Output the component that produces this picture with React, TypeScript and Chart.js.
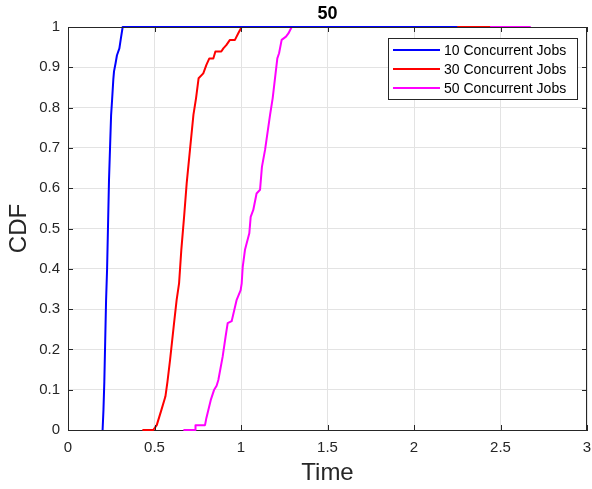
import React, { useEffect, useRef } from "react";
import { Chart, registerables } from "chart.js";

Chart.register(...registerables);

const TITLE = "50";
const X_LABEL = "Time";
const Y_LABEL = "CDF";
const X_TICKS = [0, 0.5, 1, 1.5, 2, 2.5, 3];
const Y_TICKS = [0, 0.1, 0.2, 0.3, 0.4, 0.5, 0.6, 0.7, 0.8, 0.9, 1];
const SERIES_LABELS = ["10 Concurrent Jobs", "30 Concurrent Jobs", "50 Concurrent Jobs"];
const SERIES_COLORS = ["#0000ff", "#ff0000", "#ff00ff"];

const jobs10Time = [0.2, 0.205, 0.21, 0.215, 0.22, 0.226, 0.232, 0.237, 0.243, 0.249, 0.255, 0.262, 0.266, 0.275, 0.283, 0.297, 0.305, 0.316, 2.25];
const jobs10Cdf = [0, 0.05, 0.12, 0.22, 0.32, 0.4, 0.52, 0.62, 0.7, 0.78, 0.82, 0.87, 0.89, 0.91, 0.93, 0.947, 0.97, 1, 1];

const jobs30Time = [0.43, 0.493, 0.513, 0.54, 0.563, 0.575, 0.59, 0.613, 0.628, 0.642, 0.655, 0.671, 0.686, 0.705, 0.725, 0.74, 0.755, 0.782, 0.8, 0.817, 0.84, 0.852, 0.886, 0.898, 0.915, 0.936, 0.965, 0.985, 1.004, 2.44];
const jobs30Cdf = [0, 0, 0.012, 0.05, 0.083, 0.12, 0.174, 0.265, 0.323, 0.364, 0.447, 0.529, 0.612, 0.695, 0.782, 0.823, 0.873, 0.885, 0.906, 0.922, 0.922, 0.939, 0.939, 0.947, 0.955, 0.968, 0.968, 0.985, 1, 1];

const jobs50Time = [0.667, 0.735, 0.737, 0.792, 0.8, 0.825, 0.844, 0.859, 0.869, 0.894, 0.911, 0.923, 0.946, 0.975, 0.998, 1.004, 1.01, 1.023, 1.048, 1.056, 1.071, 1.09, 1.11, 1.121, 1.139, 1.168, 1.183, 1.21, 1.22, 1.235, 1.26, 1.274, 1.293, 2.675];
const jobs50Cdf = [0, 0, 0.012, 0.012, 0.03, 0.074, 0.099, 0.11, 0.124, 0.182, 0.232, 0.265, 0.27, 0.323, 0.347, 0.364, 0.405, 0.447, 0.488, 0.529, 0.546, 0.587, 0.596, 0.653, 0.695, 0.782, 0.823, 0.922, 0.935, 0.968, 0.976, 0.984, 1, 1];

const FONT = "'Liberation Sans', Arial, Helvetica, sans-serif";
const AXIS_COLOR = "#262626";

const toPoints = (xs: number[], ys: number[]) => xs.map((x, i) => ({ x, y: ys[i] }));

const decorPlugin = {
  id: "decor",
  afterDraw(chart: any) {
    const { ctx, chartArea } = chart;
    const { left, right, top, bottom } = chartArea;
    const xs = chart.scales.x;
    const ys = chart.scales.y;
    ctx.save();
    ctx.strokeStyle = AXIS_COLOR;
    ctx.lineWidth = 1;
    ctx.beginPath();
    ctx.moveTo(left, Math.round(top) + 0.5);
    ctx.lineTo(right, Math.round(top) + 0.5);
    ctx.moveTo(Math.round(right) - 0.5, top);
    ctx.lineTo(Math.round(right) - 0.5, bottom);
    ctx.stroke();
    const tl = 5;
    ctx.beginPath();
    X_TICKS.forEach((v) => {
      const px = Math.round(xs.getPixelForValue(v)) + 0.5;
      ctx.moveTo(px, bottom);
      ctx.lineTo(px, bottom - tl);
      ctx.moveTo(px, top);
      ctx.lineTo(px, top + tl);
    });
    Y_TICKS.forEach((v) => {
      const py = Math.round(ys.getPixelForValue(v)) + 0.5;
      ctx.moveTo(left, py);
      ctx.lineTo(left + tl, py);
      ctx.moveTo(right, py);
      ctx.lineTo(right - tl, py);
    });
    ctx.stroke();

    ctx.fillStyle = "#000";
    ctx.font = `bold 18px ${FONT}`;
    ctx.textAlign = "center";
    ctx.textBaseline = "middle";
    ctx.fillText(TITLE, (left + right) / 2, 14);

    const bx = 388, by = 38, bw = 189, bh = 61;
    ctx.fillStyle = "#fff";
    ctx.fillRect(bx, by, bw, bh);
    ctx.strokeStyle = AXIS_COLOR;
    ctx.lineWidth = 1;
    ctx.strokeRect(bx + 0.5, by + 0.5, bw, bh);
    ctx.font = `14px ${FONT}`;
    ctx.textAlign = "left";
    chart.data.datasets.forEach((ds: any, i: number) => {
      const cy = 50 + i * 19;
      ctx.strokeStyle = ds.borderColor;
      ctx.lineWidth = 2;
      ctx.beginPath();
      ctx.moveTo(393, cy);
      ctx.lineTo(440, cy);
      ctx.stroke();
      ctx.fillStyle = "#000";
      ctx.fillText(ds.label, 444, cy + 1);
    });
    ctx.restore();
  },
};

export default function App() {
  const ref = useRef<HTMLCanvasElement | null>(null);
  useEffect(() => {
    document.body.style.margin = "0";
    const canvas = ref.current;
    if (!canvas) return;
    const datasets = [
      toPoints(jobs10Time, jobs10Cdf),
      toPoints(jobs30Time, jobs30Cdf),
      toPoints(jobs50Time, jobs50Cdf),
    ].map((data, i) => ({
      label: SERIES_LABELS[i],
      data,
      borderColor: SERIES_COLORS[i],
      backgroundColor: SERIES_COLORS[i],
      borderWidth: 2,
      borderJoinStyle: "round" as const,
      pointRadius: 0,
      tension: 0,
      fill: false,
      clip: 3,
    }));
    const chart = new Chart(canvas, {
      type: "line",
      data: { datasets },
      options: {
        responsive: false,
        animation: false,
        layout: { padding: { top: 27, right: 5, left: 0, bottom: 0 } },
        plugins: {
          legend: { display: false },
          title: { display: false },
          tooltip: { enabled: false },
        },
        scales: {
          x: {
            type: "linear",
            min: 0,
            max: 3,
            afterFit: (s: any) => {
              s.height = 59;
              s.paddingLeft = 0;
              s.paddingRight = 0;
            },
            afterBuildTicks: (s: any) => {
              s.ticks = X_TICKS.map((v) => ({ value: v }));
            },
            ticks: {
              color: AXIS_COLOR,
              font: { family: FONT, size: 15 },
              padding: 9,
              maxRotation: 0,
              callback: (v: any) => String(Number(Number(v).toFixed(1))),
            },
            grid: { color: "#e3e3e3", drawTicks: false },
            border: { display: true, color: AXIS_COLOR, width: 1 },
            title: {
              display: true,
              text: X_LABEL,
              color: AXIS_COLOR,
              font: { family: FONT, size: 24 },
              padding: { top: 0, bottom: 1 },
            },
          },
          y: {
            type: "linear",
            min: 0,
            max: 1,
            afterFit: (s: any) => {
              s.width = 68;
              s.paddingTop = 0;
              s.paddingBottom = 0;
            },
            afterBuildTicks: (s: any) => {
              s.ticks = Y_TICKS.map((v) => ({ value: v }));
            },
            ticks: {
              color: AXIS_COLOR,
              font: { family: FONT, size: 15 },
              padding: 8,
              callback: (v: any) => String(Number(Number(v).toFixed(1))),
            },
            grid: { color: "#e3e3e3", drawTicks: false },
            border: { display: true, color: AXIS_COLOR, width: 1 },
            title: {
              display: true,
              text: Y_LABEL,
              color: AXIS_COLOR,
              font: { family: FONT, size: 24 },
              padding: { top: 5, bottom: 0 },
            },
          },
        },
      },
      plugins: [decorPlugin],
    });
    return () => chart.destroy();
  }, []);
  return (
    <div style={{ width: 592, height: 489, background: "#fff" }}>
      <canvas ref={ref} width={592} height={489} style={{ display: "block" }} />
    </div>
  );
}
